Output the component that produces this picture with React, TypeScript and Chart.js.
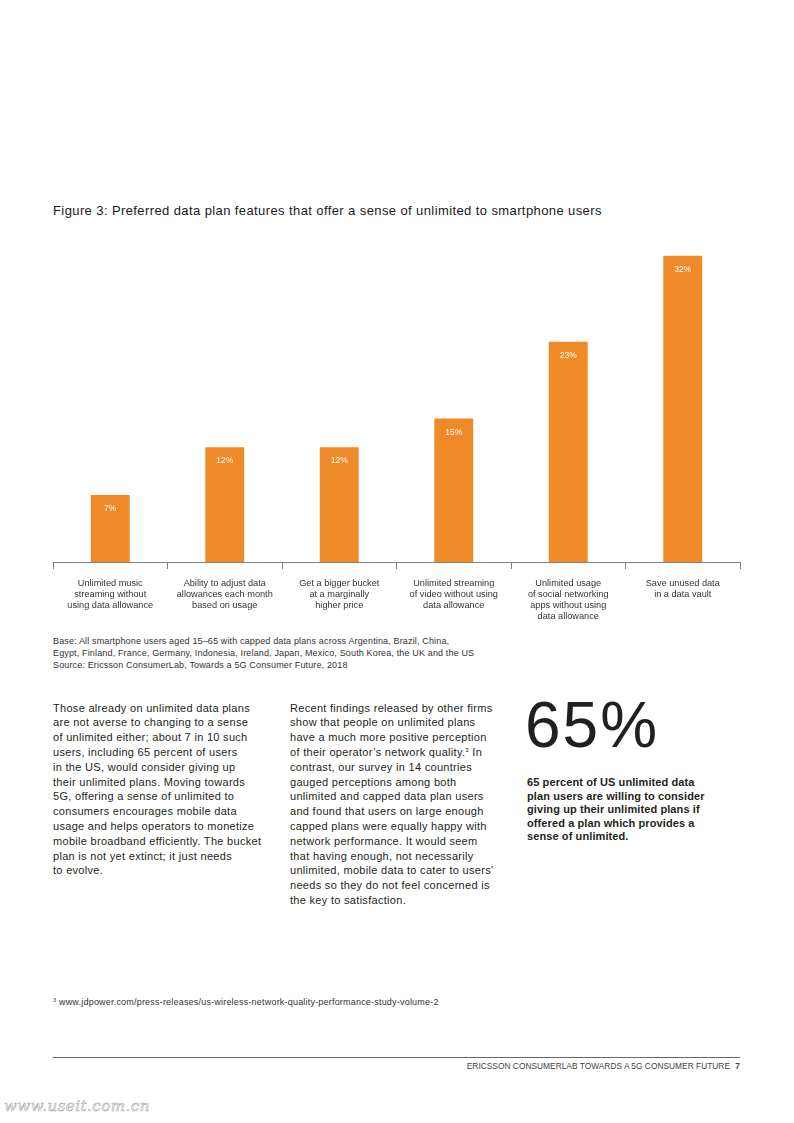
import React, { useEffect, useRef } from "react";
import { Chart, registerables } from "chart.js";

Chart.register(...registerables);

const categories: string[][] = [
  ["Unlimited music", "streaming without", "using data allowance"],
  ["Ability to adjust data", "allowances each month", "based on usage"],
  ["Get a bigger bucket", "at a marginally", "higher price"],
  ["Unlimited streaming", "of video without using", "data allowance"],
  ["Unlimited usage", "of social networking", "apps without using", "data allowance"],
  ["Save unused data", "in a data vault"],
];
const values: number[] = [7, 12, 12, 15, 23, 32];
const valueLabels: string[] = ["7%", "12%", "12%", "15%", "23%", "32%"];

const FONT = '"Liberation Sans", Arial, Helvetica, sans-serif';
const ORANGE = "#F08A28";

const baseLines = [
  "Base: All smartphone users aged 15–65 with capped data plans across Argentina, Brazil, China,",
  "Egypt, Finland, France, Germany, Indonesia, Ireland, Japan, Mexico, South Korea, the UK and the US",
  "Source: Ericsson ConsumerLab, Towards a 5G Consumer Future, 2018",
];
const col1 = [
  "Those already on unlimited data plans",
  "are not averse to changing to a sense",
  "of unlimited either; about 7 in 10 such",
  "users, including 65 percent of users",
  "in the US, would consider giving up",
  "their unlimited plans. Moving towards",
  "5G, offering a sense of unlimited to",
  "consumers encourages mobile data",
  "usage and helps operators to monetize",
  "mobile broadband efficiently. The bucket",
  "plan is not yet extinct; it just needs",
  "to evolve.",
];
const col2: React.ReactNode[] = [
  "Recent findings released by other firms",
  "show that people on unlimited plans",
  "have a much more positive perception",
  <>of their operator’s network quality.<sup style={{ fontSize: 6, verticalAlign: "4px", lineHeight: 0 }}>3</sup> In</>,
  "contrast, our survey in 14 countries",
  "gauged perceptions among both",
  "unlimited and capped data plan users",
  "and found that users on large enough",
  "capped plans were equally happy with",
  "network performance. It would seem",
  "that having enough, not necessarily",
  "unlimited, mobile data to cater to users'",
  "needs so they do not feel concerned is",
  "the key to satisfaction.",
];
const col3 = [
  "65 percent of US unlimited data",
  "plan users are willing to consider",
  "giving up their unlimited plans if",
  "offered a plan which provides a",
  "sense of unlimited.",
];

const valueLabelPlugin = {
  id: "valueLabels",
  afterDatasetsDraw(chart: any) {
    const ctx = chart.ctx;
    const meta = chart.getDatasetMeta(0);
    ctx.save();
    ctx.fillStyle = "#ffffff";
    ctx.font = `8.5px ${FONT}`;
    ctx.textAlign = "center";
    ctx.textBaseline = "middle";
    meta.data.forEach((bar: any, i: number) => {
      ctx.fillText(valueLabels[i], bar.x, bar.y + 14);
    });
    ctx.restore();
  },
};

function BarChart() {
  const ref = useRef<HTMLCanvasElement | null>(null);
  useEffect(() => {
    if (!ref.current) return;
    const chart = new Chart(ref.current, {
      type: "bar",
      data: {
        labels: categories,
        datasets: [
          {
            data: values,
            backgroundColor: ORANGE,
            borderWidth: 0,
            barPercentage: 0.34,
            categoryPercentage: 1,
          },
        ],
      },
      options: {
        animation: false,
        responsive: false,
        maintainAspectRatio: false,
        layout: { padding: { left: 2, right: 2, top: 0, bottom: 0 } },
        plugins: { legend: { display: false }, tooltip: { enabled: false } },
        scales: {
          x: {
            grid: {
              drawOnChartArea: false,
              drawTicks: true,
              tickLength: 7,
              color: "#808080",
              offset: true,
            },
            border: { color: "#808080", width: 1 },
            ticks: {
              color: "#333333",
              font: { size: 9.2, family: FONT },
              padding: 9,
              maxRotation: 0,
              autoSkip: false,
            },
            afterFit: (s: any) => {
              s.height = 70;
            },
          },
          y: { display: false, min: 0, max: 35 },
        },
      },
      plugins: [valueLabelPlugin],
    });
    return () => chart.destroy();
  }, []);
  return (
    <canvas
      ref={ref}
      width={691}
      height={405}
      style={{ position: "absolute", left: 51, top: 227, width: 691, height: 405 }}
    />
  );
}

export default function App() {
  const abs = (left: number, top: number, extra: React.CSSProperties = {}): React.CSSProperties => ({
    position: "absolute",
    left,
    top,
    whiteSpace: "nowrap",
    ...extra,
  });
  return (
    <div
      style={{
        position: "absolute",
        left: 0,
        top: 0,
        width: 794,
        height: 1123,
        background: "#fff",
        fontFamily: FONT,
        color: "#231f20",
        overflow: "hidden",
      }}
    >
      <div style={abs(53, 203, { fontSize: 13, lineHeight: "16px", letterSpacing: 0.4, color: "#1a1a1a" })}>
        Figure 3: Preferred data plan features that offer a sense of unlimited to smartphone users
      </div>
      <BarChart />
      <div style={abs(53, 635, { fontSize: 9, lineHeight: "12px", letterSpacing: 0.15, color: "#333" })}>
        {baseLines.map((l, i) => (
          <div key={i}>{l}</div>
        ))}
      </div>
      <div style={abs(53, 700.6, { fontSize: 11, lineHeight: "14.8px", letterSpacing: 0.3 })}>
        {col1.map((l, i) => (
          <div key={i}>{l}</div>
        ))}
      </div>
      <div style={abs(290, 700.6, { fontSize: 11, lineHeight: "14.8px", letterSpacing: 0.3 })}>
        {col2.map((l, i) => (
          <div key={i}>{l}</div>
        ))}
      </div>
      <div style={abs(525, 690, { fontSize: 64, lineHeight: "70px", letterSpacing: 2, color: "#231f20" })}>65%</div>
      <div style={abs(527, 776, { fontSize: 11, lineHeight: "13.5px", letterSpacing: 0.1, fontWeight: "bold" })}>
        {col3.map((l, i) => (
          <div key={i}>{l}</div>
        ))}
      </div>
      <div style={abs(53, 996, { fontSize: 9, lineHeight: "12px", letterSpacing: 0.2, color: "#333" })}>
        <sup style={{ fontSize: 5.5, verticalAlign: "3px", lineHeight: 0 }}>3</sup>
        {" "}www.jdpower.com/press-releases/us-wireless-network-quality-performance-study-volume-2
      </div>
      <div style={{ position: "absolute", left: 53, top: 1057, width: 687, height: 1, background: "#666" }} />
      <div
        style={abs(0, 1060, {
          width: 740,
          textAlign: "right",
          fontSize: 8.4,
          lineHeight: "12px",
          color: "#444",
        })}
      >
        ERICSSON CONSUMERLAB TOWARDS A 5G CONSUMER FUTURE{"  "}
        <span style={{ fontWeight: "bold", marginLeft: 3 }}>7</span>
      </div>
      <div
        style={abs(4, 1095, {
          fontSize: 15,
          lineHeight: "22px",
          fontFamily: '"DejaVu Serif", serif',
          fontStyle: "italic",
          color: "transparent",
          WebkitTextStroke: "0.6px #aaa",
          letterSpacing: 0.5,
        } as React.CSSProperties)}
      >
        www.useit.com.cn
      </div>
    </div>
  );
}
